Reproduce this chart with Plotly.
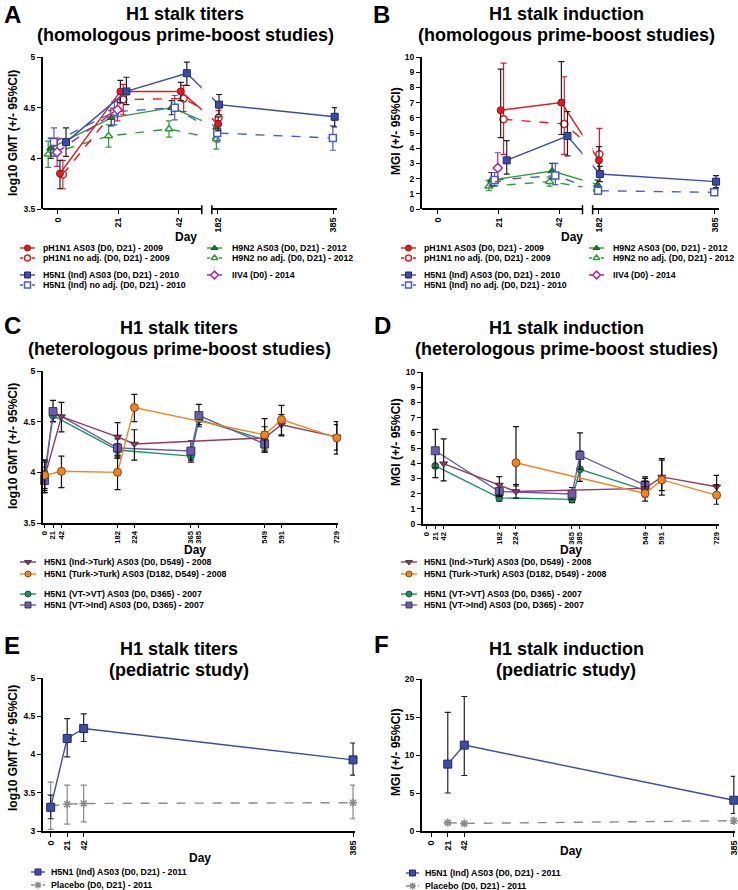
import plotly.graph_objects as go

FONT = "Liberation Sans, Arial, Helvetica, sans-serif"
W, H = 738, 890

# ------------------------------------------------------------------ data
# Panel A: H1 stalk titers (log10 GMT), homologous prime-boost
A_PH_DAYS = [0, 21, 42, 182]
A_PH_AS03 = [3.85, 4.66, 4.66, 4.34]
A_PH_AS03_HI = [3.98, 4.77, 4.75, 4.41]
A_PH_AS03_LO = [3.70, 4.55, 4.57, 4.27]
A_PH_NA = [3.84, 4.58, 4.59, 4.40]
A_PH_NA_HI = [3.98, 4.73, 4.72, 4.47]
A_PH_NA_LO = [3.70, 4.43, 4.46, 4.33]
A_H5_DAYS = [0, 21, 42, 182, 385]
A_H5_AS03 = [4.16, 4.66, 4.84, 4.53, 4.41]
A_H5_AS03_HI = [4.30, 4.80, 4.95, 4.63, 4.50]
A_H5_AS03_LO = [4.02, 4.53, 4.72, 4.43, 4.31]
A_H5_NA = [4.16, 4.46, 4.50, 4.25, 4.20]
A_H5_NA_HI = [4.30, 4.56, 4.62, 4.33, 4.32]
A_H5_NA_LO = [4.02, 4.33, 4.38, 4.16, 4.08]
A_H9_DAYS = [0, 21, 42, 182]
A_H9_AS03 = [4.10, 4.40, 4.50, 4.31]
A_H9_AS03_HI = [4.20, 4.47, 4.57, 4.37]
A_H9_AS03_LO = [4.00, 4.32, 4.43, 4.24]
A_H9_NA = [4.04, 4.22, 4.29, 4.19]
A_H9_NA_HI = [4.17, 4.33, 4.37, 4.27]
A_H9_NA_LO = [3.91, 4.11, 4.21, 4.09]
A_IIV4_DAYS = [0, 21]
A_IIV4 = [4.06, 4.48]
A_IIV4_HI = [4.20, 4.58]
A_IIV4_LO = [3.92, 4.37]

# Panel B: H1 stalk induction (MGI), homologous prime-boost
B_PH_DAYS = [21, 42, 182]
B_PH_AS03 = [6.5, 7.0, 3.2]
B_PH_AS03_HI = [9.2, 9.7, 4.1]
B_PH_AS03_LO = [4.7, 4.9, 2.4]
B_PH_NA = [5.9, 5.6, 3.6]
B_PH_NA_HI = [9.6, 8.7, 5.3]
B_PH_NA_LO = [3.6, 3.6, 2.2]
B_H5_DAYS = [21, 42, 182, 385]
B_H5_AS03 = [3.2, 4.8, 2.3, 1.8]
B_H5_AS03_HI = [4.5, 6.4, 2.8, 2.2]
B_H5_AS03_LO = [2.3, 3.5, 1.8, 1.4]
B_H5_NA = [1.9, 2.2, 1.2, 1.1]
B_H5_NA_HI = [2.4, 3.0, 1.5, 1.35]
B_H5_NA_LO = [1.5, 1.6, 1.0, 0.9]
B_H9_DAYS = [21, 42, 182]
B_H9_AS03 = [1.9, 2.5, 1.6]
B_H9_AS03_HI = [2.4, 3.0, 1.9]
B_H9_AS03_LO = [1.5, 2.0, 1.3]
B_H9_NA = [1.5, 1.8, 1.3]
B_H9_NA_HI = [1.9, 2.1, 1.5]
B_H9_NA_LO = [1.2, 1.5, 1.1]
B_IIV4_DAYS = [21]
B_IIV4 = [2.7]
B_IIV4_HI = [3.7]
B_IIV4_LO = [1.8]

# Panel C: titers, heterologous prime-boost
C_IT_DAYS = [0, 42, 182, 224, 549, 591, 729]
C_IT = [3.95, 4.55, 4.35, 4.28, 4.34, 4.47, 4.35]
C_IT_HI = [4.12, 4.69, 4.49, 4.42, 4.45, 4.57, 4.50]
C_IT_LO = [3.80, 4.40, 4.16, 4.12, 4.22, 4.36, 4.22]
C_TT_DAYS = [0, 42, 182, 224, 549, 591, 729]
C_TT = [3.97, 4.01, 4.00, 4.64, 4.37, 4.52, 4.34]
C_TT_HI = [4.10, 4.16, 4.17, 4.77, 4.53, 4.66, 4.47]
C_TT_LO = [3.84, 3.85, 3.83, 4.50, 4.20, 4.37, 4.18]
C_VT_DAYS = [0, 21, 182, 365, 385, 549]
C_VV = [3.99, 4.56, 4.22, 4.16, 4.52, 4.32]
C_VV_HI = [4.12, 4.61, 4.28, 4.21, 4.56, 4.40]
C_VV_LO = [3.82, 4.50, 4.14, 4.10, 4.45, 4.24]
C_VI = [3.92, 4.60, 4.24, 4.21, 4.56, 4.28]
C_VI_HI = [4.05, 4.71, 4.33, 4.31, 4.67, 4.38]
C_VI_LO = [3.80, 4.50, 4.14, 4.12, 4.47, 4.20]

# Panel D: MGI, heterologous prime-boost
D_IT_DAYS = [42, 182, 224, 549, 591, 729]
D_IT = [3.97, 2.57, 2.14, 2.34, 3.1, 2.45]
D_IT_HI = [5.6, 3.12, 2.6, 3.0, 4.3, 3.2]
D_IT_LO = [2.84, 1.9, 1.7, 1.8, 1.9, 1.9]
D_TT_DAYS = [224, 549, 591, 729]
D_TT = [4.03, 2.01, 2.9, 1.9]
D_TT_HI = [6.4, 2.8, 4.2, 2.6]
D_TT_LO = [2.5, 1.5, 2.2, 1.3]
D_VT_DAYS = [21, 182, 365, 385, 549]
D_VV = [3.82, 1.72, 1.62, 3.6, 2.23]
D_VV_HI = [5.0, 2.0, 1.8, 4.8, 2.8]
D_VV_LO = [3.05, 1.5, 1.4, 2.8, 1.8]
D_VI = [4.82, 2.14, 1.97, 4.51, 2.56]
D_VI_HI = [6.22, 2.6, 2.4, 6.0, 3.1]
D_VI_LO = [3.7, 1.8, 1.6, 3.6, 2.1]

# Panel E: titers, pediatric study
E_DAYS = [0, 21, 42, 385]
E_H5 = [3.31, 4.21, 4.34, 3.93]
E_H5_HI = [3.47, 4.47, 4.53, 4.15]
E_H5_LO = [3.16, 3.97, 4.17, 3.73]
E_PLA = [3.33, 3.35, 3.36, 3.37]
E_PLA_HI = [3.64, 3.60, 3.60, 3.60]
E_PLA_LO = [3.02, 3.09, 3.12, 3.16]

# Panel F: MGI, pediatric study
F_DAYS = [21, 42, 385]
F_H5 = [8.8, 11.3, 4.05]
F_H5_HI = [15.6, 17.7, 7.2]
F_H5_LO = [5.0, 7.3, 2.3]
F_PLA = [1.1, 1.0, 1.35]
F_PLA_HI = [1.3, 1.2, 1.7]
F_PLA_LO = [0.9, 0.8, 1.0]

# tick labels
AB_TICKS = [0, 21, 42, 182, 385]
CD_TICKS = [0, 21, 42, 182, 224, 365, 385, 549, 591, 729]
EF_TICKS = [0, 21, 42, 385]

# legend labels
LAB_PH_AS03 = "pH1N1 AS03 (D0, D21) - 2009"
LAB_PH_NA = "pH1N1 no adj. (D0, D21) - 2009"
LAB_H5_AS03 = "H5N1 (Ind) AS03 (D0, D21) - 2010"
LAB_H5_NA = "H5N1 (Ind) no adj. (D0, D21) - 2010"
LAB_H9_AS03 = "H9N2 AS03 (D0, D21) - 2012"
LAB_H9_NA = "H9N2 no adj. (D0, D21) - 2012"
LAB_IIV4 = "IIV4 (D0) - 2014"
LAB_IT = "H5N1 (Ind->Turk) AS03 (D0, D549) - 2008"
LAB_TT = "H5N1 (Turk->Turk) AS03 (D182, D549) - 2008"
LAB_VV = "H5N1 (VT->VT) AS03 (D0, D365) - 2007"
LAB_VI = "H5N1 (VT->Ind) AS03 (D0, D365) - 2007"
LAB_E_H5 = "H5N1 (Ind) AS03 (D0, D21) - 2011"
LAB_PLA = "Placebo (D0, D21) - 2011"

# ------------------------------------------------------------------ styles
RED, BLUE, GREEN, MAG = "#D91F26", "#3C4CA6", "#2F9A3C", "#A626A4"
MAROON, ORANGE, TEAL, PURPLE = "#8D3A63", "#F08424", "#1E8E62", "#6B5DAA"
GREY = "#8A8A8A"

ST = {
    "ph_as03": dict(color=RED, dash="solid", symbol="circle", fill=RED, edge="#9E1010", ew=1, size=7, err="#222222", jit=0.7),
    "ph_na": dict(color=RED, dash="dash", symbol="circle", fill="white", edge=RED, ew=1.5, size=7, err=RED, jit=1.7),
    "h5_as03": dict(color=BLUE, dash="solid", symbol="square", fill=BLUE, edge="#1E2A6E", ew=1, size=7, err="#222222", jit=2.8),
    "h5_na": dict(color="#4A5DC0", dash="dash", symbol="square", fill="white", edge="#4A5DC0", ew=1.5, size=7, err="#4A5DC0", jit=-1.4),
    "h9_as03": dict(color=GREEN, dash="solid", symbol="triangle-up", fill="#1F7A2A", edge="#145A1C", ew=1, size=7, err="#333333", jit=-2.5),
    "h9_na": dict(color=GREEN, dash="dash", symbol="triangle-up", fill="white", edge=GREEN, ew=1.5, size=7, err=GREEN, jit=-3.4),
    "iiv4": dict(color=MAG, dash="dash", symbol="diamond", fill="white", edge=MAG, ew=1.5, size=7, err=MAG, jit=-0.3),
    "it": dict(color=MAROON, dash="solid", symbol="triangle-down", fill=MAROON, edge="#3A1A2A", ew=0.8, size=7, err="#111111", jit=0),
    "tt": dict(color=ORANGE, dash="solid", symbol="circle", fill=ORANGE, edge="#6A3300", ew=0.8, size=8, err="#111111", jit=0),
    "vv": dict(color=TEAL, dash="solid", symbol="circle", fill=TEAL, edge="#0D3D28", ew=0.8, size=7, err="#111111", jit=0),
    "vi": dict(color=PURPLE, dash="solid", symbol="square", fill=PURPLE, edge="#2A2250", ew=0.8, size=8, err="#111111", jit=0),
    "e_h5": dict(color=BLUE, dash="solid", symbol="square", fill=BLUE, edge="#1E2A6E", ew=1, size=8, err="#222222", jit=0),
    "pla": dict(color=GREY, dash="dash", symbol="asterisk-open", fill=GREY, edge=GREY, ew=1.5, size=7, err=GREY, jit=0),
}

# broken axis for panels A/B (display units)
SEG1_END, SEG2_START, GAP, K2 = 50.0, 171.5, 3.5, 0.198


def brk(d):
    return d if d <= SEG1_END else SEG1_END + GAP + (d - SEG2_START) * K2


def brk_j(d, j):
    return brk(d) + j * (1.0 if d <= SEG1_END else 0.15)


fig = go.Figure()


def add_series(key, days, vals, hi, lo, ax, broken=False):
    s = ST[key]
    if broken:
        xs = [brk_j(d, s["jit"]) for d in days]
    else:
        xs = list(days)
    fig.add_trace(go.Scatter(
        x=xs, y=vals, mode="lines+markers", xaxis="x" + ax, yaxis="y" + ax,
        line=dict(color=s["color"], width=1.4, dash=s["dash"]),
        marker=dict(symbol=s["symbol"], size=s["size"], color=s["fill"],
                    line=dict(color=s["edge"], width=s["ew"])),
        error_y=dict(type="data", symmetric=False,
                     array=[h - v for h, v in zip(hi, vals)],
                     arrayminus=[v - l for v, l in zip(vals, lo)],
                     color=s["err"], thickness=1.2, width=3),
        showlegend=False, cliponaxis=False, hoverinfo="skip"))


# Panel A
add_series("h9_na", A_H9_DAYS, A_H9_NA, A_H9_NA_HI, A_H9_NA_LO, "", True)
add_series("h9_as03", A_H9_DAYS, A_H9_AS03, A_H9_AS03_HI, A_H9_AS03_LO, "", True)
add_series("h5_na", A_H5_DAYS, A_H5_NA, A_H5_NA_HI, A_H5_NA_LO, "", True)
add_series("iiv4", A_IIV4_DAYS, A_IIV4, A_IIV4_HI, A_IIV4_LO, "", True)
add_series("ph_na", A_PH_DAYS, A_PH_NA, A_PH_NA_HI, A_PH_NA_LO, "", True)
add_series("ph_as03", A_PH_DAYS, A_PH_AS03, A_PH_AS03_HI, A_PH_AS03_LO, "", True)
add_series("h5_as03", A_H5_DAYS, A_H5_AS03, A_H5_AS03_HI, A_H5_AS03_LO, "", True)
# Panel B
add_series("h9_na", B_H9_DAYS, B_H9_NA, B_H9_NA_HI, B_H9_NA_LO, "2", True)
add_series("h9_as03", B_H9_DAYS, B_H9_AS03, B_H9_AS03_HI, B_H9_AS03_LO, "2", True)
add_series("h5_na", B_H5_DAYS, B_H5_NA, B_H5_NA_HI, B_H5_NA_LO, "2", True)
add_series("iiv4", B_IIV4_DAYS, B_IIV4, B_IIV4_HI, B_IIV4_LO, "2", True)
add_series("ph_na", B_PH_DAYS, B_PH_NA, B_PH_NA_HI, B_PH_NA_LO, "2", True)
add_series("ph_as03", B_PH_DAYS, B_PH_AS03, B_PH_AS03_HI, B_PH_AS03_LO, "2", True)
add_series("h5_as03", B_H5_DAYS, B_H5_AS03, B_H5_AS03_HI, B_H5_AS03_LO, "2", True)
# Panel C
add_series("vv", C_VT_DAYS, C_VV, C_VV_HI, C_VV_LO, "3")
add_series("vi", C_VT_DAYS, C_VI, C_VI_HI, C_VI_LO, "3")
add_series("it", C_IT_DAYS, C_IT, C_IT_HI, C_IT_LO, "3")
add_series("tt", C_TT_DAYS, C_TT, C_TT_HI, C_TT_LO, "3")
# Panel D
add_series("vv", D_VT_DAYS, D_VV, D_VV_HI, D_VV_LO, "4")
add_series("vi", D_VT_DAYS, D_VI, D_VI_HI, D_VI_LO, "4")
add_series("it", D_IT_DAYS, D_IT, D_IT_HI, D_IT_LO, "4")
add_series("tt", D_TT_DAYS, D_TT, D_TT_HI, D_TT_LO, "4")
# Panel E
add_series("pla", E_DAYS, E_PLA, E_PLA_HI, E_PLA_LO, "5")
add_series("e_h5", E_DAYS, E_H5, E_H5_HI, E_H5_LO, "5")
# Panel F
add_series("pla", F_DAYS, F_PLA, F_PLA_HI, F_PLA_LO, "6")
add_series("e_h5", F_DAYS, F_H5, F_H5_HI, F_H5_LO, "6")

# ------------------------------------------------------------------ layout helpers


def tf(size):
    return dict(family=FONT, size=size, color="black", weight="bold")


def dx(x0, x1):
    return [x0 / W, x1 / W]


def dy(ytop, ybot):
    return [1 - ybot / H, 1 - ytop / H]


def xaxis(dom, rng, tickvals, ticktext, anchor, fsize, ticklen=4, showline=True):
    return dict(domain=dom, range=rng, anchor=anchor, tickmode="array",
                tickvals=tickvals, ticktext=ticktext, tickangle=-90,
                showline=showline, linecolor="black", linewidth=2,
                ticks="outside", ticklen=ticklen, tickwidth=1.3, tickcolor="black",
                showgrid=False, zeroline=False, tickfont=tf(fsize), automargin=False,
                ticklabeloverflow="allow")


def yaxis(dom, rng, tickvals, anchor):
    return dict(domain=dom, range=rng, anchor=anchor, tickmode="array",
                tickvals=tickvals, ticktext=[("%g" % t) for t in tickvals],
                showline=True, linecolor="black", linewidth=2,
                ticks="outside", ticklen=4, tickwidth=1.3, tickcolor="black",
                showgrid=False, zeroline=False, tickfont=tf(8.5), automargin=False)


GMT = "log10 GMT (+/- 95%CI)"
MGI = "MGI (+/- 95%CI)"

A_RANGE = [-5.2, 97.0]
B_RANGE = [-5.5, 97.2]

layout = dict(
    width=W, height=H, margin=dict(l=0, r=0, t=0, b=0, pad=0),
    paper_bgcolor="white", plot_bgcolor="rgba(0,0,0,0)", showlegend=False,
    font=dict(family=FONT, color="black"),
    xaxis=xaxis(dx(43, 337), A_RANGE, [brk(t) for t in AB_TICKS], [str(t) for t in AB_TICKS], "y", 9, 4, False),
    yaxis=yaxis(dy(57, 209), [3.5, 5], [3.5, 4, 4.5, 5], "x"),
    xaxis2=xaxis(dx(422, 719), B_RANGE, [brk(t) for t in AB_TICKS], [str(t) for t in AB_TICKS], "y2", 9, 4, False),
    yaxis2=yaxis(dy(57, 209), [0, 10], list(range(0, 11)), "x2"),
    xaxis3=xaxis(dx(43, 338), [-4, 732], CD_TICKS, [str(t) for t in CD_TICKS], "y3", 7.6, 3),
    yaxis3=yaxis(dy(371, 523), [3.5, 5], [3.5, 4, 4.5, 5], "x3"),
    xaxis4=xaxis(dx(423, 719), [-10, 735], CD_TICKS, [str(t) for t in CD_TICKS], "y4", 7.6, 3),
    yaxis4=yaxis(dy(372, 524), [0, 10], list(range(0, 11)), "x4"),
    xaxis5=xaxis(dx(43, 355), [-9.8, 387.5], EF_TICKS, [str(t) for t in EF_TICKS], "y5", 9),
    yaxis5=yaxis(dy(678, 831), [3, 5], [3, 3.5, 4, 4.5, 5], "x5"),
    xaxis6=xaxis(dx(422, 735), [-11.8, 386.5], EF_TICKS, [str(t) for t in EF_TICKS], "y6", 9),
    yaxis6=yaxis(dy(679, 831), [0, 20], [0, 5, 10, 15, 20], "x6"),
    # overlay in pixel units for titles / legends
    xaxis7=dict(domain=[0, 1], range=[0, W], visible=False, anchor="y7", fixedrange=True),
    yaxis7=dict(domain=[0, 1], range=[H, 0], visible=False, anchor="x7", fixedrange=True),
)
fig.update_layout(**layout)

# ------------------------------------------------------------------ broken axis shapes (A, B)
shapes = []
for xr, yr, rng in (("x", "y domain", A_RANGE), ("x2", "y2 domain", B_RANGE)):
    shapes.append(dict(type="rect", xref=xr, yref=yr, x0=SEG1_END, x1=SEG1_END + GAP,
                       y0=-0.01, y1=1.0, fillcolor="white", line=dict(width=0), layer="above"))
    shapes.append(dict(type="line", xref=xr, yref=yr, x0=rng[0], x1=SEG1_END, y0=0, y1=0,
                       line=dict(color="black", width=2), layer="above"))
    shapes.append(dict(type="line", xref=xr, yref=yr, x0=SEG1_END + GAP, x1=rng[1], y0=0, y1=0,
                       line=dict(color="black", width=2), layer="above"))
    for xb in (SEG1_END, SEG1_END + GAP):
        shapes.append(dict(type="line", xref=xr, yref=yr, x0=xb, x1=xb, y0=0.025, y1=-0.035,
                           line=dict(color="black", width=1.5), layer="above"))
fig.update_layout(shapes=shapes)

# ------------------------------------------------------------------ titles, letters, axis titles
ann = []


def text(x, y, t, size, xanchor="center", yanchor="middle", angle=0):
    ann.append(dict(x=x, y=y, xref="x7", yref="y7", text=t, showarrow=False,
                    xanchor=xanchor, yanchor=yanchor, textangle=angle,
                    font=tf(size)))


PANEL_TITLES = [
    ("A", 2, 14, 185, 14, "H1 stalk titers", "(homologous prime-boost studies)"),
    ("B", 371, 14, 566, 14, "H1 stalk induction", "(homologous prime-boost studies)"),
    ("C", 2, 325, 179, 328, "H1 stalk titers", "(heterologous prime-boost studies)"),
    ("D", 372, 325, 566, 328, "H1 stalk induction", "(heterologous prime-boost studies)"),
    ("E", 2, 645, 179, 649, "H1 stalk titers", "(pediatric study)"),
    ("F", 372, 644, 566, 649, "H1 stalk induction", "(pediatric study)"),
]
for letter, lx, ly, tx, ty, l1, l2 in PANEL_TITLES:
    text(lx, ly, letter, 24, "left")
    text(tx, ty, l1, 18)
    text(tx, ty + 21, l2, 18)

AXIS_TITLES = [
    # (text, x, y, angle)
    ("Day", 186, 237, 0), ("Day", 572, 237, 0), ("Day", 195, 550, 0),
    ("Day", 571, 550, 0), ("Day", 200, 858, 0), ("Day", 571, 851, 0),
    (GMT, 13, 133, -90), (MGI, 396, 131, -90), (GMT, 13, 446, -90),
    (MGI, 396, 442, -90), (GMT, 13, 748, -90), (MGI, 396, 752, -90),
]
for t, x, y, ang in AXIS_TITLES:
    text(x, y, t, 12, angle=ang)

# ------------------------------------------------------------------ manual legends
LEGENDS = [
    # (label, style, symbol x0, symbol x1, text x, row y)
    (LAB_PH_AS03, "ph_as03", 20, 35, 41, 248), (LAB_PH_NA, "ph_na", 20, 35, 41, 258),
    (LAB_H5_AS03, "h5_as03", 20, 35, 41, 275), (LAB_H5_NA, "h5_na", 20, 35, 41, 285),
    (LAB_H9_AS03, "h9_as03", 207, 222, 230, 248), (LAB_H9_NA, "h9_na", 207, 222, 230, 258),
    (LAB_IIV4, "iiv4", 207, 222, 230, 275),
    (LAB_PH_AS03, "ph_as03", 401, 416, 422, 248), (LAB_PH_NA, "ph_na", 401, 416, 422, 258),
    (LAB_H5_AS03, "h5_as03", 401, 416, 422, 275), (LAB_H5_NA, "h5_na", 401, 416, 422, 285),
    (LAB_H9_AS03, "h9_as03", 589, 604, 611, 248), (LAB_H9_NA, "h9_na", 589, 604, 611, 258),
    (LAB_IIV4, "iiv4", 589, 604, 611, 275),
    (LAB_IT, "it", 20, 36, 42, 562), (LAB_TT, "tt", 20, 36, 42, 574),
    (LAB_VV, "vv", 20, 36, 42, 594), (LAB_VI, "vi", 20, 36, 42, 605),
    (LAB_IT, "it", 401, 417, 422, 562), (LAB_TT, "tt", 401, 417, 422, 574),
    (LAB_VV, "vv", 401, 417, 422, 594), (LAB_VI, "vi", 401, 417, 422, 605),
    (LAB_E_H5, "e_h5", 31, 45, 49, 872), (LAB_PLA, "pla", 31, 45, 49, 885),
    (LAB_E_H5, "e_h5", 406, 419, 423, 873), (LAB_PLA, "pla", 406, 419, 423, 886),
]
for lab, key, x0, x1, tx, y in LEGENDS:
    s = ST[key]
    fig.add_trace(go.Scatter(x=[x0, x1], y=[y, y], mode="lines", xaxis="x7", yaxis="y7",
                             line=dict(color=s["color"], width=1.4, dash="dot" if s["dash"] == "dash" else "solid"),
                             showlegend=False, hoverinfo="skip"))
    fig.add_trace(go.Scatter(x=[(x0 + x1) / 2], y=[y], mode="markers", xaxis="x7", yaxis="y7",
                             marker=dict(symbol=s["symbol"], size=6, color=s["fill"],
                                         line=dict(color=s["edge"], width=s["ew"])),
                             showlegend=False, hoverinfo="skip", cliponaxis=False))
    text(tx, y, lab, 8.8, "left")

fig.update_layout(annotations=ann)
fig.write_html("out.html", config={"displayModeBar": False},
               post_script="document.body.style.margin='0';document.body.style.padding='0';"
                           "document.body.style.overflow='hidden';")
